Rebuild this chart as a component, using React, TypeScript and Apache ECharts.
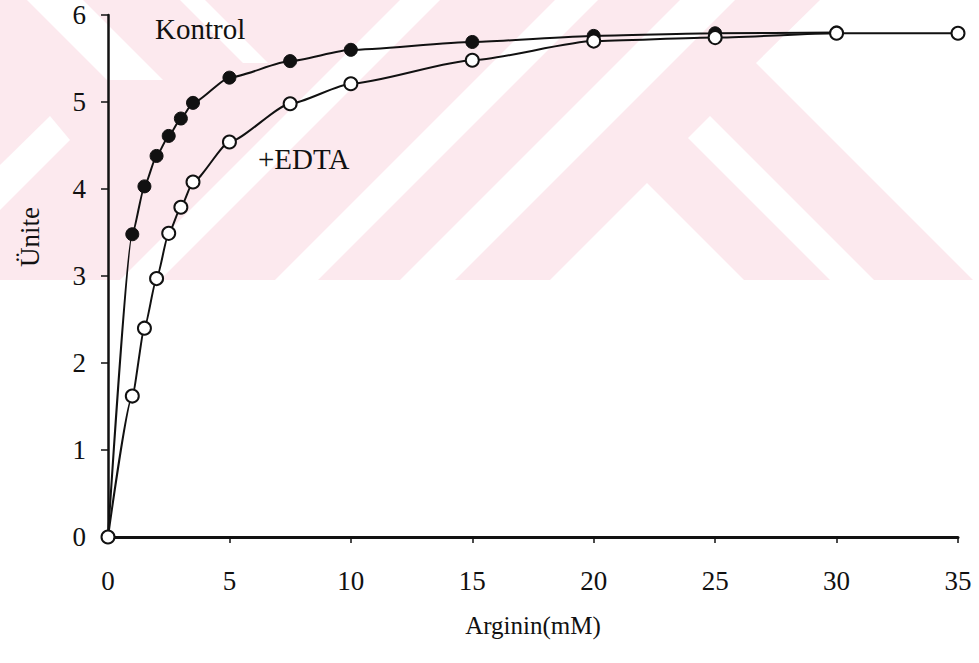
import React, { useEffect, useRef } from "react";
import * as echarts from "echarts";

const xKontrol = [0, 1, 1.5, 2, 2.5, 3, 3.5, 5, 7.5, 10, 15, 20, 25, 30];
const yKontrol = [0, 3.48, 4.03, 4.38, 4.61, 4.81, 4.99, 5.28, 5.47, 5.6, 5.69, 5.76, 5.79, 5.8];
const xEdta = [0, 1, 1.5, 2, 2.5, 3, 3.5, 5, 7.5, 10, 15, 20, 25, 30, 35];
const yEdta = [0, 1.62, 2.4, 2.97, 3.49, 3.79, 4.08, 4.54, 4.98, 5.21, 5.48, 5.7, 5.74, 5.79, 5.79];
const xTicks = [0, 5, 10, 15, 20, 25, 30, 35];
const yTicks = [0, 1, 2, 3, 4, 5, 6];
const seriesNames = ["Kontrol", "+EDTA"];
const xTitle = "Arginin(mM)";
const yTitle = "Ünite";

const FONT = "Liberation Serif";
const PINK = "#fce9ee";

// watermark (background decoration)
const whiteShapes: number[][][] = [
  [[820, 0], [979, 0], [979, 280], [973, 280], [756, 63]],
  [[647, 183], [550, 280], [744, 280]],
  [[688, 138], [710, 116], [874, 280], [830, 280]],
  [[680, 0], [735, 0], [455, 280], [400, 280]],
  [[555, 0], [598, 0], [318, 280], [275, 280]],
  [[400, 0], [440, 0], [160, 280], [120, 280]],
  [[180, 0], [205, 0], [268, 63], [243, 63]],
  [[27, 0], [83, 0], [163, 80], [107, 80]],
  [[0, 165], [0, 210], [70, 140], [50, 116]],
];

export default function App() {
  const ref = useRef<HTMLDivElement>(null);
  useEffect(() => {
    if (!ref.current) return;
    const chart = echarts.init(ref.current, null, { renderer: "svg" });
    const graphics: any[] = [
      { type: "rect", z: -10, shape: { x: 0, y: 0, width: 979, height: 280 }, style: { fill: PINK }, silent: true },
      ...whiteShapes.map((pts) => ({ type: "polygon", z: -9, shape: { points: pts }, style: { fill: "#ffffff" }, silent: true })),
      { type: "text", left: 155, top: 14, z: 10, style: { text: seriesNames[0], fontSize: 29, fontFamily: FONT, fill: "#111" } },
      { type: "text", left: 258, top: 144, z: 10, style: { text: seriesNames[1], fontSize: 29, fontFamily: FONT, fill: "#111" } },
      {
        type: "text", x: 30, y: 237, rotation: Math.PI / 2, z: 10,
        style: { text: yTitle, fontSize: 27, fontFamily: FONT, fill: "#111", align: "center", verticalAlign: "middle" },
      },
    ];
    chart.setOption({
      animation: false,
      backgroundColor: "#ffffff",
      textStyle: { fontFamily: FONT },
      grid: { left: 108, right: 21, top: 15, bottom: 126, containLabel: false },
      graphic: graphics,
      xAxis: {
        type: "value", min: xTicks[0], max: xTicks[xTicks.length - 1], interval: 5,
        name: xTitle, nameLocation: "middle", nameGap: 76,
        nameTextStyle: { fontFamily: FONT, fontSize: 25, color: "#111" },
        axisLine: { lineStyle: { color: "#111", width: 3 } },
        axisTick: { show: true, inside: false, length: 6, lineStyle: { color: "#111", width: 1.5 } },
        axisLabel: { fontFamily: FONT, fontSize: 27, color: "#111", margin: 30 },
        splitLine: { show: false },
      },
      yAxis: {
        type: "value", min: yTicks[0], max: yTicks[yTicks.length - 1], interval: 1,
        axisLine: { show: true, lineStyle: { color: "#111", width: 2.5 } },
        axisTick: { show: true, inside: false, length: 7, lineStyle: { color: "#111", width: 1.5 } },
        axisLabel: { fontFamily: FONT, fontSize: 27, color: "#111", margin: 22 },
        splitLine: { show: false },
      },
      series: [
        {
          name: seriesNames[0], type: "line", z: 3,
          data: xKontrol.map((x, i) => [x, yKontrol[i]]),
          smooth: 0.2, smoothMonotone: "x",
          symbol: "circle", symbolSize: 13,
          lineStyle: { color: "#111", width: 2 },
          itemStyle: { color: "#111", borderColor: "#111", borderWidth: 1 },
        },
        {
          name: seriesNames[1], type: "line", z: 4,
          data: xEdta.map((x, i) => [x, yEdta[i]]),
          smooth: 0.2, smoothMonotone: "x",
          symbol: "circle", symbolSize: 13,
          lineStyle: { color: "#111", width: 2 },
          itemStyle: { color: "#ffffff", borderColor: "#111", borderWidth: 2 },
        },
      ],
    });
    return () => chart.dispose();
  }, []);
  return <div ref={ref} style={{ position: "fixed", left: 0, top: 0, width: 979, height: 663 }} />;
}
